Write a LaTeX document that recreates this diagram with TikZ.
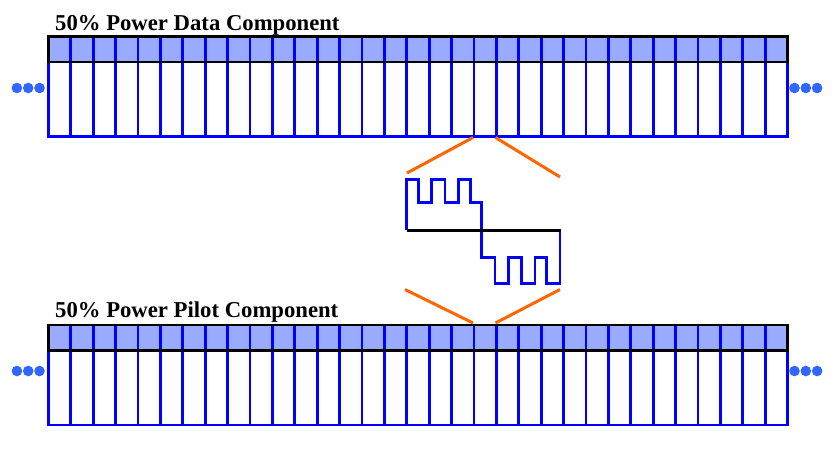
\documentclass[tikz,border=0pt]{standalone}
\usepackage{fontspec}
\setmainfont{Liberation Serif}
\definecolor{wblue}{RGB}{0,0,255}
\definecolor{hdrfill}{RGB}{153,170,255}
\definecolor{dotblue}{RGB}{51,102,255}
\definecolor{zoomorange}{RGB}{255,102,0}
\begin{document}
\begin{tikzpicture}[x=1pt,y=-1pt,
  bluel/.style={draw=wblue,line width=2.8pt},
  blackl/.style={draw=black,line width=2.8pt},
  orng/.style={draw=zoomorange,line width=3pt},
  wave/.style={draw=wblue,line width=2.8pt,line join=miter},
  ttl/.style={font=\bfseries\fontsize{22.7}{26}\selectfont,anchor=base west,inner sep=0pt},
  dotc/.style={fill=dotblue,draw=none},
  combbar/.pic={
    \fill[hdrfill] (0,0) rectangle (739.2,25.5);
    \foreach \i in {1,...,32} \draw[bluel] (\i*22.4,0) -- (\i*22.4,100);
    \draw[bluel] (0,0) rectangle (739.2,100);
    \draw[blackl] (0,0) rectangle (739.2,25.5);
  }]
\useasboundingbox (0,0) rectangle (840,452);

% bars
\pic at (48.3,36.5) {combbar};
\pic at (48.3,325) {combbar};

% titles
\node[ttl] (t1) at (55,30.5) {50\% Power Data Component};
\node[ttl] (t2) at (55,317.5) {50\% Power Pilot Component};

% ellipsis dots
\foreach \x in {16.9,28.2,39.5,794.5,805.8,817.1}{
  \fill[dotc] (\x,88) circle (5.3);
  \fill[dotc] (\x,371) circle (5.3);
}

% zoom-lines anchor points
\coordinate (ta) at (473,137.5);
\coordinate (tb) at (495.5,137.5);
\coordinate (tl) at (407,173);
\coordinate (tr) at (560,177);
\coordinate (ba) at (473,323);
\coordinate (bb) at (495.5,323);
\coordinate (bl) at (405,289.5);
\coordinate (br) at (560,289.5);
\draw[orng] (tl) -- (ta);
\draw[orng] (tb) -- (tr);
\draw[orng] (bl) -- (ba);
\draw[orng] (bb) -- (br);

% waveform
\draw[wave] (406.7,230) -- (406.7,179.3) -- (418.3,179.3) -- (418.3,202.7)
  -- (431.7,202.7) -- (431.7,179.3) -- (445,179.3) -- (445,202.7)
  -- (458.3,202.7) -- (458.3,179.3) -- (470.7,179.3) -- (470.7,202.7)
  -- (481.7,202.7) -- (481.7,257.7) -- (495,257.7) -- (495,283.3)
  -- (508.3,283.3) -- (508.3,257.7) -- (521.7,257.7) -- (521.7,283.3)
  -- (535,283.3) -- (535,257.7) -- (546.7,257.7) -- (546.7,283.3)
  -- (560,283.3) -- (560,230);
\coordinate (axl) at (406.7,230.5);
\coordinate (axr) at (561,230.5);
\draw[blackl,line width=3pt] (axl) -- (axr);
\end{tikzpicture}
\end{document}
